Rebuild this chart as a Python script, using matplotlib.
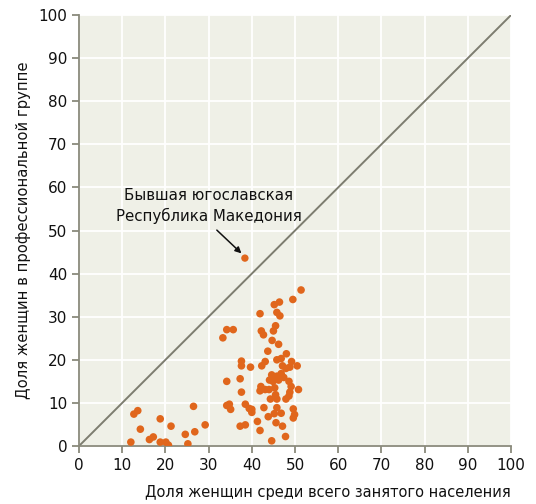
import matplotlib.pyplot as plt
import numpy as np

# доля женщин среди всего занятого населения (x) и в профессиональной группе (y)
x_vals = [12.0, 12.7, 13.6, 14.2, 16.3, 17.2, 18.8, 18.8, 20.1, 20.7, 21.3, 24.6, 25.2, 26.5, 26.8, 29.2,
          51.4, 49.5, 45.2, 46.4, 41.9, 45.8, 46.5, 34.2, 35.7, 33.3, 45.5, 42.2, 42.7, 45.0,
          44.7, 46.2, 43.7, 48.0, 37.6, 37.6, 39.7, 43.1, 42.3, 45.8, 46.8, 49.2, 50.5, 47.1,
          47.9, 48.8, 34.2, 37.3, 44.6, 45.8, 46.8, 47.4, 44.1, 44.9, 48.6, 46.2, 37.6, 42.1,
          41.9, 43.1, 44.0, 45.3, 45.5, 49.1, 50.8, 48.8, 48.6, 47.9, 44.3, 45.8, 34.2, 34.8,
          35.1, 38.5, 39.4, 40.0, 40.0, 42.8, 45.8, 45.2, 46.8, 43.8, 49.6, 49.9, 49.6, 41.3,
          45.6, 47.1, 37.3, 38.5, 41.9, 47.8, 44.6]
y_vals = [0.9, 7.4, 8.2, 3.9, 1.5, 2.1, 6.3, 0.9, 0.9, 0.2, 4.6, 2.7, 0.5, 9.2, 3.3, 4.9,
          36.2, 34.0, 32.8, 33.4, 30.7, 31.0, 30.2, 27.0, 27.0, 25.1, 27.9, 26.7, 25.8, 26.7,
          24.5, 23.6, 22.0, 21.4, 19.7, 18.6, 18.3, 19.6, 18.6, 20.0, 20.3, 19.6, 18.6, 18.6,
          18.0, 18.3, 15.0, 15.6, 16.5, 16.2, 16.8, 15.9, 15.3, 15.0, 15.0, 15.3, 12.5, 13.8,
          12.8, 13.1, 13.1, 13.5, 11.9, 13.8, 13.1, 12.5, 11.6, 10.9, 10.9, 10.9, 9.4, 9.7,
          8.5, 9.7, 8.7, 8.5, 7.8, 8.9, 8.9, 7.5, 7.6, 6.8, 8.6, 7.3, 6.5, 5.7,
          5.4, 4.6, 4.6, 4.9, 3.6, 2.2, 1.2]
mk_x, mk_y = 38.4, 43.6
mk_label = "Бывшая югославская\nРеспублика Македония"

plt.rcParams['font.family'] = ['DejaVu Sans']

fig = plt.figure(figsize=(5.36, 5.04), dpi=100)
ax = fig.add_axes([0.1474, 0.1151, 0.806, 0.855])
ax.set_facecolor('#eff0e7')

ax.set_xlim(0, 100)
ax.set_ylim(0, 100)
ax.set_xticks(np.arange(0, 101, 10))
ax.set_yticks(np.arange(0, 101, 10))
ax.grid(True, color='white', linewidth=1.3)
ax.set_axisbelow(True)

for s in ['top', 'right']:
    ax.spines[s].set_visible(False)
for s in ['left', 'bottom']:
    ax.spines[s].set_color('#8a8a7c')
    ax.spines[s].set_linewidth(1.3)
ax.tick_params(colors='#8a8a7c', labelcolor='#111111', labelsize=11, length=5, width=1.3)

ax.plot([0, 100], [0, 100], color='#7d7d70', linewidth=1.4, zorder=2)
ax.scatter(x_vals, y_vals, s=30, color='#e0661c', edgecolors='none', zorder=3)
ax.scatter([mk_x], [mk_y], s=28, color='#e0661c', edgecolors='none', zorder=3)

# подпись и стрелка
ax.text(30.1, 55.7, mk_label, ha='center', va='center', fontsize=10.8,
        color='#111111', linespacing=1.3)
ax.annotate('', xy=(37.6, 44.7), xytext=(31.9, 50.1),
            arrowprops=dict(arrowstyle='-|>', color='#111111', lw=1.1,
                            mutation_scale=9, shrinkA=0, shrinkB=0))

ax.set_xlabel("Доля женщин среди всего занятого населения", fontsize=10.5,
              color='#111111', loc='right', labelpad=9)
ax.set_ylabel("Доля женщин в профессиональной группе", fontsize=10.6,
              color='#111111', labelpad=5)

fig.savefig('out.png', dpi=100)
